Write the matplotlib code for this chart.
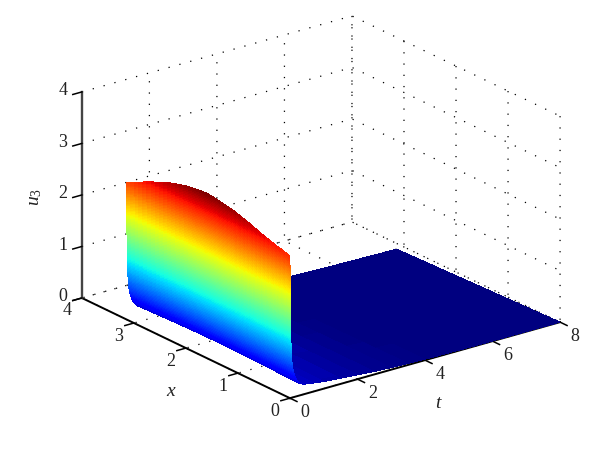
import numpy as np
import matplotlib
matplotlib.use("Agg")
import matplotlib.pyplot as plt
from mpl_toolkits.mplot3d import proj3d

plt.rcParams["font.family"] = ["Liberation Serif", "DejaVu Serif"]
plt.rcParams["mathtext.fontset"] = "custom"
plt.rcParams["mathtext.rm"] = "Liberation Serif"
plt.rcParams["mathtext.it"] = "Liberation Serif:italic"
plt.rcParams["grid.color"] = "black"
plt.rcParams["grid.linewidth"] = 0.9
plt.rcParams["grid.linestyle"] = (0, (1, 8))

# values
x_vals = [0.0, 0.08, 0.16, 0.24, 0.31, 0.39, 0.47, 0.55, 0.63, 0.71, 0.79,
          0.86, 0.94, 1.02, 1.10, 1.18, 1.26, 1.34, 1.41, 1.49, 1.57,
          1.65, 1.73, 1.81, 1.88, 1.96, 2.04, 2.12, 2.20, 2.28, 2.36,
          2.43, 2.51, 2.59, 2.67, 2.75, 2.83, 2.91, 2.98, 3.06, 3.14]
u_start = [2.76, 2.785, 2.81, 2.83, 2.85, 2.875, 2.90, 2.93, 2.96, 2.99, 3.02,
           3.045, 3.07, 3.095, 3.12, 3.135, 3.15, 3.165, 3.18, 3.19, 3.20,
           3.197, 3.19, 3.18, 3.17, 3.155, 3.14, 3.115, 3.09, 3.065, 3.04,
           3.005, 2.97, 2.935, 2.90, 2.86, 2.82, 2.78, 2.74, 2.70, 2.66]
t_vals = [0.0, 0.0002, 0.0004, 0.0006, 0.0008, 0.0010, 0.0012, 0.0014, 0.0016, 0.0018,
          0.0020, 0.0023, 0.0026, 0.0029, 0.0032, 0.0035, 0.0038, 0.0041, 0.0044, 0.0047,
          0.0050, 0.0053, 0.0056, 0.0059, 0.0062, 0.0065, 0.0068, 0.0071, 0.0074, 0.0077,
          0.0080, 0.0083, 0.0086, 0.0089, 0.0093, 0.0097, 0.0100, 0.0107, 0.0114, 0.0121,
          0.0128, 0.0135, 0.0142, 0.0149, 0.0156, 0.0163, 0.0170, 0.0178, 0.0186, 0.0194,
          0.0202, 0.0210, 0.0218, 0.0226, 0.0234, 0.0242, 0.0250, 0.0258, 0.0268, 0.0278,
          0.0290, 0.0303, 0.0316, 0.0329, 0.0342, 0.0355, 0.0368, 0.0381, 0.0396, 0.0410,
          0.0435, 0.0460, 0.0485, 0.0515, 0.0545, 0.0580, 0.0625, 0.0670, 0.0720, 0.0780,
          0.0850, 0.0920, 0.1000, 0.1120, 0.1250, 0.1370, 0.1500, 0.1680, 0.1850, 0.2100,
          0.2400, 0.275, 0.31, 0.42, 0.70, 1.0, 1.5, 2.0, 2.5, 3.0, 3.5, 4.0, 5.0, 6.0, 8.0]
decay = [1.00, 0.99, 0.98, 0.97, 0.96, 0.95, 0.94, 0.93, 0.92, 0.91,
         0.90, 0.89, 0.88, 0.87, 0.86, 0.85, 0.84, 0.83, 0.82, 0.81,
         0.80, 0.79, 0.78, 0.77, 0.76, 0.75, 0.74, 0.73, 0.72, 0.71,
         0.70, 0.69, 0.68, 0.67, 0.66, 0.65, 0.64, 0.63, 0.62, 0.61,
         0.60, 0.59, 0.58, 0.57, 0.56, 0.55, 0.54, 0.53, 0.52, 0.51,
         0.50, 0.49, 0.48, 0.47, 0.46, 0.45, 0.44, 0.43, 0.42, 0.41,
         0.40, 0.39, 0.38, 0.37, 0.36, 0.35, 0.34, 0.33, 0.32, 0.31,
         0.30, 0.29, 0.28, 0.27, 0.26, 0.25, 0.24, 0.23, 0.22, 0.21,
         0.20, 0.19, 0.18, 0.17, 0.16, 0.15, 0.14, 0.13, 0.12, 0.11,
         0.10, 0.09, 0.08, 0.07, 0.06, 0.05, 0.04, 0.03, 0.02, 0.015,
         0.01, 0.006, 0.003, 0.001, 0.0]
# the far edge (x = pi) sits a little below the floor at late t
tail_drop = [0.0] * 95 + [0.01, 0.02, 0.03, 0.035, 0.045, 0.05, 0.06, 0.07, 0.085, 0.11]
t_ticks = [0, 2, 4, 6, 8]
x_ticks = [0, 1, 2, 3, 4]
u_ticks = [0, 1, 2, 3, 4]

T, X = np.meshgrid(t_vals, x_vals)
U = np.outer(u_start, decay) - np.outer(np.array(x_vals) / x_vals[-1], tail_drop)

fig = plt.figure(figsize=(6, 4.5), dpi=100)
ax = fig.add_axes([56.2 / 600, -21.8 / 450, 515.6 / 600, 515.6 / 450],
                  projection="3d", proj_type="ortho")
ax.view_init(elev=21.6, azim=232.6)
ax.set_box_aspect((340, 342.6, 221.6), zoom=1.0)
ax.patch.set_alpha(0)

ax.plot_surface(T, X, U, rstride=1, cstride=1, cmap="jet", vmin=0, vmax=3.2,
                linewidth=0, antialiased=False, shade=False)

ax.set_xlim(0, 8, view_margin=0)
ax.set_ylim(0, 4, view_margin=0)
ax.set_zlim(0, 4, view_margin=0)
ax.set_xticks(t_ticks)
ax.set_yticks(x_ticks)
ax.set_zticks(u_ticks)
ax.set_xticklabels([])
ax.set_yticklabels([])
ax.set_zticklabels([])

for axis in (ax.xaxis, ax.yaxis, ax.zaxis):
    axis.set_pane_color((1, 1, 1, 0))
    axis.pane.set_edgecolor((1, 1, 1, 0))
    axis.line.set_color("black")
    axis.line.set_linewidth(1.4)
    axis._axinfo["tick"]["inward_factor"] = 0
    axis._axinfo["tick"]["outward_factor"] = -0.42
    axis._axinfo["tick"]["color"] = "black"
    axis._axinfo["tick"]["linewidth"] = {True: 1.1, False: 0.5}
ax.zaxis.line.set_color("#444444")
ax.zaxis.line.set_linewidth(1.7)


def tick_label(t, x, u, text, dx, dy):
    px, py, _ = proj3d.proj_transform(t, x, u, ax.get_proj())
    ax.annotate(text, xy=(px, py), xytext=(dx, dy), textcoords="offset pixels",
                ha="center", va="center", fontsize=13, color="#222222",
                annotation_clip=False)


for v in t_ticks:
    tick_label(v, 0, 0, str(v), 15, -14)
for v in x_ticks:
    tick_label(0, v, 0, str(v), -15, -13)
for v in u_ticks:
    tick_label(0, 4, v, str(v), -19, 1)

fig.text(171 / 600, 1 - 391 / 450, "x", style="italic", fontsize=14,
         ha="center", va="center", color="#222222")
fig.text(438 / 600, 1 - 403 / 450, "t", style="italic", fontsize=14,
         ha="center", va="center", color="#222222")
fig.text(35 / 600, 1 - 197 / 450, "$u_3$", rotation=90, fontsize=14,
         ha="center", va="center", color="#222222")

fig.savefig("out.png", dpi=100)
